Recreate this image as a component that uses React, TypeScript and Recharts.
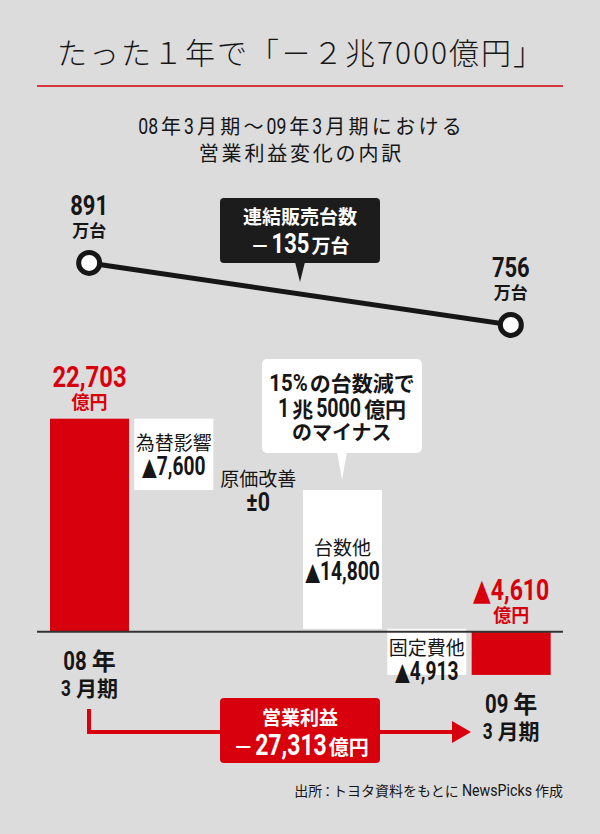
import React from 'react';
import { ComposedChart, Bar, Line, XAxis, YAxis, ReferenceLine } from 'recharts';

// 営業利益の増減（億円）
const steps = ['08年3月期', '為替影響', '原価改善', '台数他', '固定費他', '09年3月期'];
const changes = [22703, -7600, 0, -14800, -4913];
// 連結販売台数（万台）
const unitSales: (number | null)[] = [891, null, null, null, null, 756];

const RED = '#d9000d';
const INK = '#161616';
const BG = '#dcdcdc';
const NUM = "Roboto, 'DejaVu Sans', sans-serif";
const JP = "'Noto Sans CJK JP', sans-serif";

type Step = { name: string; total: boolean; value: number; range: [number, number]; units: number | null };

const data: Step[] = [];
let run = 0;
steps.forEach((name, i) => {
  const total = i === 0 || i === steps.length - 1;
  const start = total ? 0 : run;
  if (i < changes.length) run += changes[i];
  data.push({
    name,
    total,
    value: total ? run : changes[i],
    range: [Math.min(start, run), Math.max(start, run)],
    units: unitSales[i],
  });
});

const profitDiff = data[data.length - 1].value - data[0].value;
const unitDiff = (unitSales[unitSales.length - 1] as number) - (unitSales[0] as number);

const fmt = (v: number) =>
  v === 0 ? '±0' : (v < 0 ? '▲' : '') + Math.abs(v).toLocaleString('en-US');

// condensed latin widths (em)
const NARROW: Record<string, number> = { ',': 0.22, '.': 0.22, '%': 0.7, '▲': 0.52, '±': 0.5, ':': 0.28 };
const latinW = (c: string) =>
  NARROW[c] ?? (/[0-9]/.test(c) ? 0.45 : /[mwMW]/.test(c) ? 0.66 : /[il]/.test(c) ? 0.22 : /[A-Z]/.test(c) ? 0.52 : 0.44);
const isLatin = (r: string) => /^[0-9A-Za-z,.%▲±:]+$/.test(r);

// one line of mixed latin / japanese, y = visual centre of the line
const Txt = ({ x, y, s, num, jp, fill = INK, anchor = 'middle', weight = 700, ls = 0, gap = 2 }: any) => {
  const parts: string[] = s.match(/[0-9A-Za-z,.%▲±:]+|[^0-9A-Za-z,.%▲±:]+/g) || [];
  const widths = parts.map((p) =>
    isLatin(p) ? [...p].reduce((a, c) => a + latinW(c) * num, 0) : [...p].length * jp + ([...p].length - 1) * ls
  );
  const total = widths.reduce((a, b) => a + b, 0) + gap * (parts.length - 1);
  let cur = anchor === 'middle' ? x - total / 2 : anchor === 'end' ? x - total : x;
  const base = y + (parts.some(isLatin) ? num * 0.36 : jp * 0.37);
  return (
    <g>
      {parts.map((p, i) => {
        const px = cur;
        cur += widths[i] + gap;
        return isLatin(p) ? (
          <text key={i} x={px} y={base} fontFamily={NUM} fontSize={num} fontWeight={weight} fill={fill}
            textLength={widths[i]} lengthAdjust="spacingAndGlyphs">{p}</text>
        ) : (
          <text key={i} x={px} y={base} fontFamily={JP} fontSize={jp} fontWeight={weight} fill={fill}
            letterSpacing={ls}>{p}</text>
        );
      })}
    </g>
  );
};

const renderStep = (p: any) => {
  const { x, y, width, height, payload } = p;
  const top = Math.min(y, y + height);
  const h = Math.abs(height);
  const cx = x + width / 2;
  if (payload.total) {
    const year = payload.name.slice(0, 3);
    const term = payload.name.slice(3);
    return (
      <g>
        <rect x={x} y={top} width={width} height={h} fill={RED} />
        <Txt x={cx} y={top - 42} s={fmt(payload.value)} num={30} jp={18} fill={RED} />
        <Txt x={cx} y={top - 16} s="億円" num={18} jp={18} fill={RED} />
        <Txt x={cx} y={top + h + 29} s={year} num={26} jp={24} gap={5} />
        <Txt x={cx} y={top + h + 56} s={term} num={22} jp={21} gap={5} />
      </g>
    );
  }
  const mid = top + h / 2 + (h > 0 && h < 60 ? 7 : 0);
  return (
    <g>
      {h > 0 && <rect x={x} y={top} width={width} height={h} fill="#fff" />}
      <Txt x={cx} y={mid - 11} s={payload.name} num={19} jp={19} weight={400} />
      <Txt x={cx} y={mid + 12} s={fmt(payload.value)} num={25} jp={19} gap={1} />
    </g>
  );
};

const renderUnitDot = (p: any) => {
  const { cx, cy, index, value } = p;
  if (value == null || cx == null || cy == null) return <g key={`u${index}`} />;
  return (
    <g key={`u${index}`}>
      <circle cx={cx} cy={cy} r={10.5} fill="#fff" stroke={INK} strokeWidth={5} />
      <Txt x={cx} y={cy - 58} s={String(value)} num={28} jp={17} />
      <Txt x={cx} y={cy - 32} s="万台" num={17} jp={17} />
    </g>
  );
};

export default function App() {
  return (
    <div style={{ position: 'absolute', left: 0, top: 0, width: 600, height: 834, background: BG, overflow: 'hidden' }}>
      <ComposedChart width={600} height={834} data={data} margin={{ top: 172, right: 37, bottom: 71, left: 37 }}>
        <XAxis dataKey="name" hide padding={{ left: 10, right: 10 }} />
        <YAxis yAxisId="amt" hide domain={[-14000, 49000]} allowDataOverflow />
        <YAxis yAxisId="units" hide domain={[-198, 1089]} allowDataOverflow />
        <Bar yAxisId="amt" dataKey="range" barSize={79} shape={renderStep} isAnimationActive={false} />
        <ReferenceLine yAxisId="amt" y={0} stroke="#333" strokeWidth={2} />
        <Line
          yAxisId="units"
          dataKey="units"
          connectNulls
          stroke={INK}
          strokeWidth={5}
          dot={renderUnitDot}
          activeDot={false}
          isAnimationActive={false}
        />
      </ComposedChart>

      <svg width={600} height={834} style={{ position: 'absolute', left: 0, top: 0, pointerEvents: 'none' }}>
        <text x={301} y={64} textAnchor="middle" fontFamily={JP} fontSize={30} fontWeight={300} fill={INK} letterSpacing={2}>
          たった１年で「－２兆7000億円」
        </text>
        <line x1={37} x2={563} y1={86} y2={86} stroke={RED} strokeWidth={1.5} />
        <Txt x={300} y={126} s="08年3月期〜09年3月期における" num={22} jp={20} weight={400} ls={3.3} gap={3} />
        <Txt x={300} y={154} s="営業利益変化の内訳" num={22} jp={20} weight={400} ls={2.8} />

        <rect x={220} y={198} width={160} height={65} rx={4} fill="#1c1c1c" />
        <polygon points="295,262 305,262 300,282" fill="#1c1c1c" />
        <Txt x={300} y={217} s="連結販売台数" num={19} jp={19} fill="#fff" />
        <Txt x={300} y={243} s={'－' + Math.abs(unitDiff) + '万台'} num={28} jp={19} fill="#fff" gap={2} />

        <rect x={262} y={359} width={160} height={94} rx={5} fill="#fff" />
        <polygon points="337,452 347,452 342,480" fill="#fff" />
        <Txt x={342} y={382} s="15%の台数減で" num={24} jp={21} />
        <Txt x={342} y={408} s="1兆5000億円" num={25} jp={21} gap={3} />
        <Txt x={342} y={433} s="のマイナス" num={24} jp={20} />

        <polyline points="89,709 89,732 455,732" fill="none" stroke={RED} strokeWidth={4} />
        <polygon points="452,721 471,732 452,743" fill={RED} />
        <rect x={220} y={698} width={160} height={65} rx={4} fill={RED} />
        <Txt x={300} y={718} s="営業利益" num={19} jp={19} fill="#fff" />
        <Txt x={301} y={745} s={'－' + Math.abs(profitDiff).toLocaleString('en-US') + '億円'} num={29} jp={20} fill="#fff" gap={2} />

        <Txt x={563} y={790} s="出所:トヨタ資料をもとにNewsPicks作成" num={17} jp={14} weight={400} anchor="end" gap={3} />
      </svg>
    </div>
  );
}
